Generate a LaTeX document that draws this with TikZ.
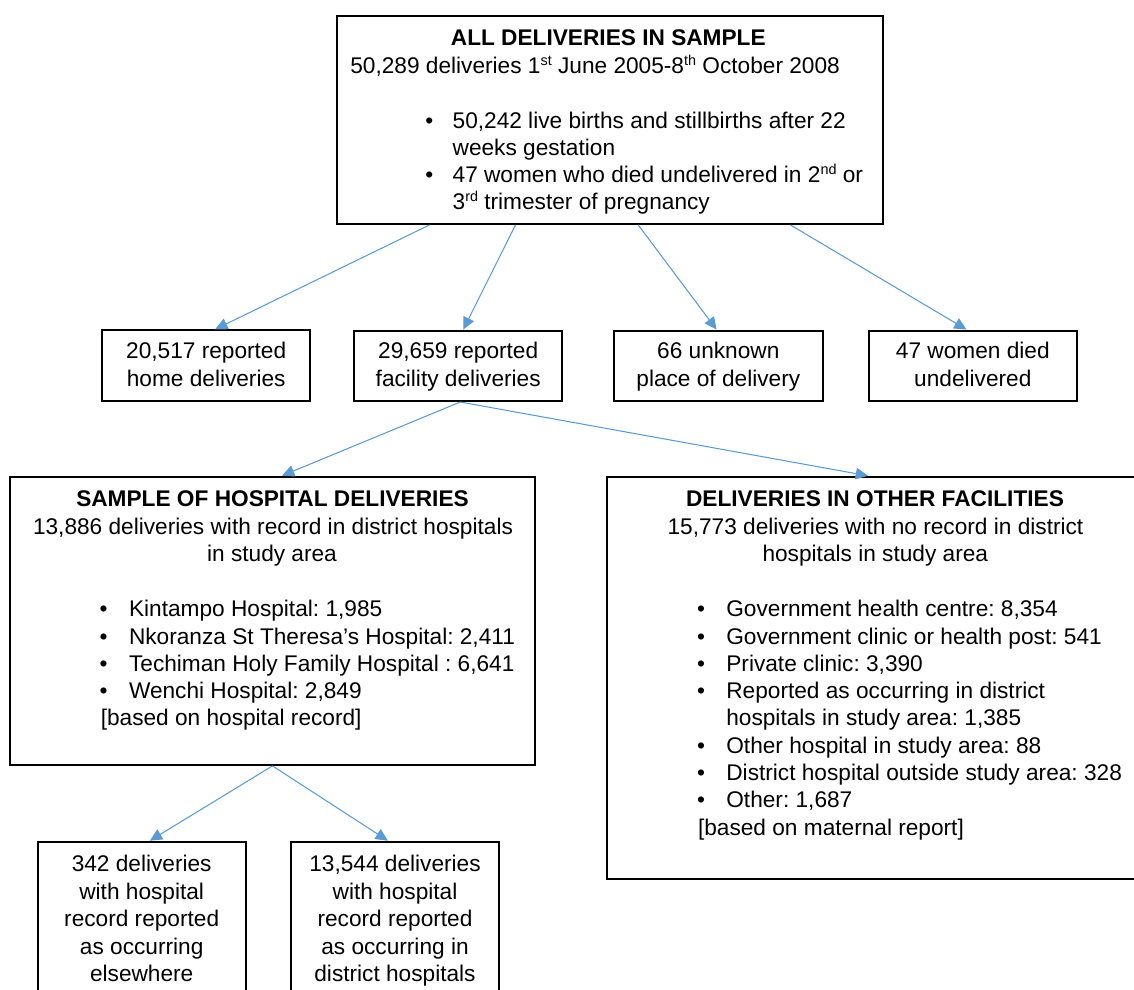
\documentclass[tikz,border=0pt]{standalone}
\usepackage{fontspec}
\setmainfont{Liberation Sans}
\usetikzlibrary{calc,arrows.meta}

\definecolor{linkblue}{RGB}{91,155,213}
\newcommand{\sups}[1]{\raisebox{0.36em}{\fontsize{8.2}{8.2}\selectfont #1}}
\frenchspacing

\tikzset{
  box/.style={draw, line width=1.1pt, inner sep=0pt},
  txt/.style={inner sep=0pt, font=\fontsize{12.9}{15.5}\selectfont\frenchspacing},
  ttl/.style={inner sep=0pt, font=\fontsize{12.9}{15.5}\selectfont\bfseries},
  link/.style={draw=linkblue, line width=0.6pt, -{Triangle[length=7pt,width=6.6pt]}},
}

\begin{document}
\begin{tikzpicture}[x=0.02cm,y=-0.02cm]
  \useasboundingbox (0,0) rectangle (1134,990);
  \clip (0,0) rectangle (1134,990);

  % frames
  \node[box, minimum width=10.92cm, minimum height=4.166cm] (all) at (609.7,119.85) {};
  \node[box, minimum width=4.154cm, minimum height=1.41cm] (home) at (206.2,365.5) {};
  \node[box, minimum width=4.154cm, minimum height=1.41cm] (fac) at (458.2,365.8) {};
  \node[box, minimum width=4.174cm, minimum height=1.41cm] (unk) at (718.3,365.8) {};
  \node[box, minimum width=4.166cm, minimum height=1.41cm] (died) at (972.8,365.8) {};
  \node[box, minimum width=10.5cm, minimum height=5.766cm] (hosp) at (272.5,620.8) {};
  \node[box, minimum width=10.708cm, minimum height=8.052cm] (other) at (875,678) {};
  \node[box, minimum width=4.16cm, minimum height=3.366cm] (elsew) at (141.7,925.8) {};
  \node[box, minimum width=4.16cm, minimum height=3.366cm] (distr) at (395,925.8) {};

  % all deliveries
  \node[ttl, anchor=base] (allttl) at (608.3,45.7) {ALL DELIVERIES IN SAMPLE};
  \node[txt, anchor=base west] (allsub) at (350,73.3)
    {50,289 deliveries 1\sups{st} June 2005-8\sups{th} October 2008};
  \foreach \t [count=\i from 0] in {{50,242 live births and stillbirths after 22},
      {weeks gestation},
      {47 women who died undelivered in 2\sups{nd} or},
      {3\sups{rd} trimester of pregnancy}}
    \node[txt, anchor=base west] (all-l\i) at (452.3,{128.3+27.1*\i}) {\t};
  \foreach \k in {0,2}
    \node[txt, anchor=base] (all-b\k) at (429.3,{128.3+27.1*\k}) {•};

  % second row
  \node[txt, anchor=base] (home-a) at (206.2,358.3) {20,517 reported};
  \node[txt, anchor=base] (home-b) at (206.2,386) {home deliveries};
  \node[txt, anchor=base] (fac-a) at (458.2,358.3) {29,659 reported};
  \node[txt, anchor=base] (fac-b) at (458.2,386) {facility deliveries};
  \node[txt, anchor=base] (unk-a) at (718.3,358.3) {66 unknown};
  \node[txt, anchor=base] (unk-b) at (718.3,386) {place of delivery};
  \node[txt, anchor=base] (died-a) at (972.8,358.3) {47 women died};
  \node[txt, anchor=base] (died-b) at (972.8,386) {undelivered};

  % hospital deliveries
  \node[ttl, anchor=base] (hospttl) at (272.5,506.7) {SAMPLE OF HOSPITAL DELIVERIES};
  \node[txt, anchor=base] (hospsub) at (273,534) {13,886 deliveries with record in district hospitals};
  \node[txt, anchor=base] (hospsub2) at (272,561) {in study area};
  \foreach \t [count=\i from 0] in {{Kintampo Hospital: 1,985},
      {Nkoranza St Theresa’s Hospital: 2,411},
      {Techiman Holy Family Hospital : 6,641},
      {Wenchi Hospital: 2,849}}{
    \node[txt, anchor=base west] (hosp-l\i) at (128.7,{616.7+27.3*\i}) {\t};
    \node[txt, anchor=base] (hosp-b\i) at (103.7,{616.7+27.3*\i}) {•};
  }
  \node[txt, anchor=base west] (hospsrc) at (100.4,725.9) {[based on hospital record]};

  % other facilities
  \node[ttl, anchor=base] (otherttl) at (875,506.7) {DELIVERIES IN OTHER FACILITIES};
  \node[txt, anchor=base] (othersub) at (875.5,534) {15,773 deliveries with no record in district};
  \node[txt, anchor=base] (othersub2) at (875.3,561) {hospitals in study area};
  \foreach \t [count=\i from 0] in {{Government health centre: 8,354},
      {Government clinic or health post: 541},
      {Private clinic: 3,390},
      {Reported as occurring in district},
      {hospitals in study area: 1,385},
      {Other hospital in study area: 88},
      {District hospital outside study area: 328},
      {Other: 1,687}}
    \node[txt, anchor=base west] (other-l\i) at (726,{616.7+27.3*\i}) {\t};
  \foreach \k in {0,1,2,3,5,6,7}
    \node[txt, anchor=base] (other-b\k) at (701,{616.7+27.3*\k}) {•};
  \node[txt, anchor=base west] (othersrc) at (697.7,835.1) {[based on maternal report]};

  % bottom row
  \foreach \t [count=\i from 0] in {{342 deliveries},{with hospital},{record reported},
      {as occurring},{elsewhere}}
    \node[txt, anchor=base] (elsew-l\i) at (141.7,{871.7+27.5*\i}) {\t};
  \foreach \t [count=\i from 0] in {{13,544 deliveries},{with hospital},{record reported},
      {as occurring in},{district hospitals}}
    \node[txt, anchor=base] (distr-l\i) at (395,{871.7+27.5*\i}) {\t};

  % arrows
  \draw[link] ($(all.south west)!.171!(all.south east)$) -- ($(home.north west)!.543!(home.north east)$);
  \draw[link] ($(all.south west)!.328!(all.south east)$) -- ($(fac.north west)!.524!(fac.north east)$);
  \draw[link] ($(all.south west)!.552!(all.south east)$) -- ($(unk.north west)!.492!(unk.north east)$);
  \draw[link] ($(all.south west)!.830!(all.south east)$) -- ($(died.north west)!.47!(died.north east)$);
  \draw[link] ($(fac.south west)!.51!(fac.south east)$) -- ($(hosp.north west)!.518!(hosp.north east)$);
  \draw[link] ($(fac.south west)!.51!(fac.south east)$) -- ($(other.north west)!.487!(other.north east)$);
  \draw[link] (hosp.south) -- ($(elsew.north west)!.539!(elsew.north east)$);
  \draw[link] (hosp.south) -- ($(distr.north west)!.466!(distr.north east)$);
\end{tikzpicture}
\end{document}
